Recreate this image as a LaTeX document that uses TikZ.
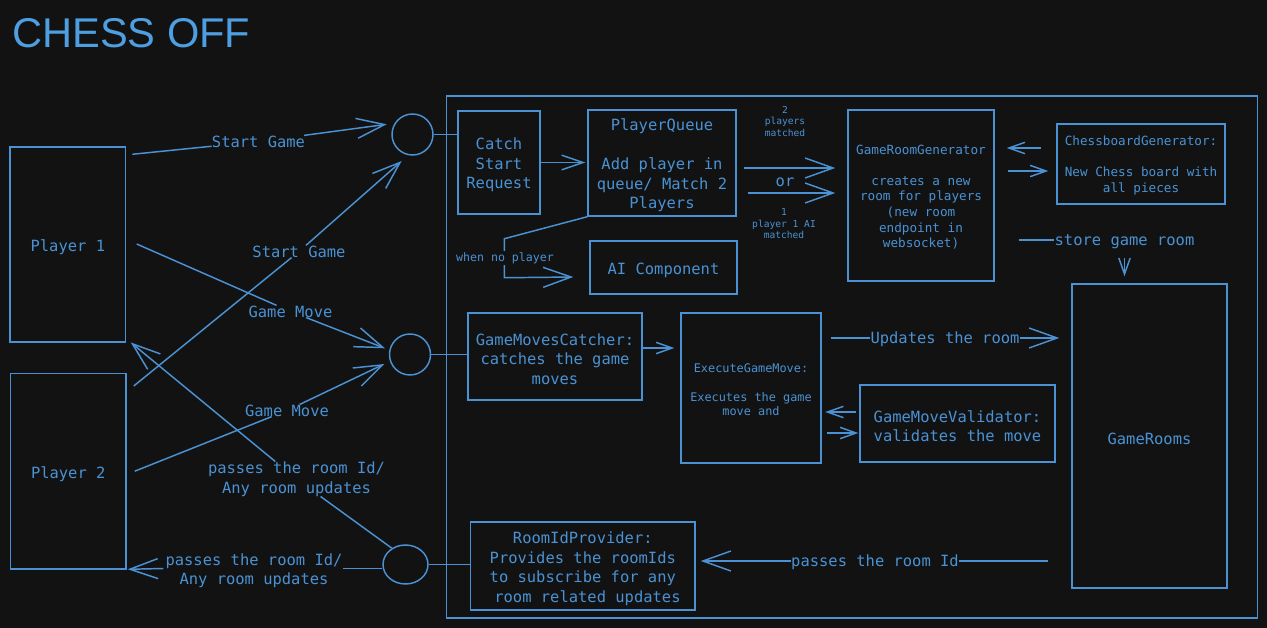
\documentclass[tikz,border=0pt]{standalone}
\usepackage{fontspec}
\setmainfont{DejaVu Sans Mono}
\newfontfamily\titlefam{Liberation Sans}
\usetikzlibrary{arrows.meta,shapes.geometric,calc}
\def\pxu{*0.75pt}
\definecolor{bg}{HTML}{121212}
\definecolor{fg}{HTML}{4A92D4}
\definecolor{tt}{HTML}{4E9FE2}
\newcommand\fmain{\fontsize{11.6pt}{14.6pt}\selectfont}
\newcommand\fsmall{\fontsize{9.5pt}{11.7pt}\selectfont}
\newcommand\fegm{\fontsize{8.9pt}{10.9pt}\selectfont}
\newcommand\fwhen{\fontsize{8.7pt}{10.5pt}\selectfont}
\newcommand\ftiny{\fontsize{7.2pt}{8.6pt}\selectfont}
\newcommand\ftitle{\titlefam\fontsize{31.2pt}{36pt}\selectfont}
\begin{document}
\begin{tikzpicture}[x=0.75pt,y=-0.75pt,
  ln/.style={draw=fg,line width=1.1pt},
  box/.style={rectangle,draw=fg,line width=1.1pt,inner sep=0pt},
  lbl/.style={inner sep=0pt,align=center,text=fg,font=\fmain},
  in main/.style={label={[lbl,yshift=-1.9pt]center:{#1}}},
  in small/.style={label={[lbl,font=\fsmall,yshift=-1.2pt]center:{#1}}},
  in egm/.style={label={[lbl,font=\fegm,yshift=-1.2pt]center:{#1}}},
  bigtip/.style={-{Straight Barb[length=21pt,width=15pt]}},
  medtip/.style={-{Straight Barb[length=16pt,width=11pt]}},
  smalltip/.style={-{Straight Barb[length=12pt,width=8.5pt]}},
  ring/.style={draw=fg,line width=1.1pt,inner sep=0pt}
]
\fill[bg] (0,0) rectangle (1267,628);
\useasboundingbox (0,0) rectangle (1267,628);

\node[anchor=base west,inner sep=0pt,text=tt,font=\ftitle] (title) at (12,47) {CHESS OFF};

% container
\node[box,minimum width=811\pxu,minimum height=522\pxu] (sys) at (852,357) {};

% players and circles
\node[box,minimum width=115.7\pxu,minimum height=195\pxu,in main={Player 1}] (p1) at (67.85,244.5) {};
\node[box,minimum width=115.5\pxu,minimum height=195.7\pxu,in main={Player 2}] (p2) at (68.25,471.2) {};
\node[ring,circle,minimum size=41\pxu] (c1) at (412.5,134.5) {};
\node[ring,circle,minimum size=41\pxu] (c2) at (410,354.5) {};
\node[ring,ellipse,minimum width=45\pxu,minimum height=39\pxu] (c3) at (405.5,564.5) {};

% components
\node[box,minimum width=82\pxu,minimum height=103\pxu,in main={Catch\\Start\\Request}] (catch) at (499,162.5) {};
\node[box,minimum width=148\pxu,minimum height=106\pxu,in main={PlayerQueue\\[14.6pt]Add player in\\queue/ Match 2\\Players}] (pq) at (662,163) {};
\node[box,minimum width=147\pxu,minimum height=53\pxu,in main={AI Component}] (ai) at (663.5,267.5) {};
\node[box,minimum width=146\pxu,minimum height=171\pxu,in small={GameRoomGenerator\\[11.7pt]creates a new\\room for players\\(new room\\endpoint in\\websocket)}] (grg) at (921,195.5) {};
\node[box,minimum width=168\pxu,minimum height=80\pxu,in small={ChessboardGenerator:\\[11.7pt]New Chess board with\\all pieces}] (cbg) at (1141,164) {};
\node[box,minimum width=174\pxu,minimum height=87\pxu,in main={GameMovesCatcher:\\catches the game\\moves}] (gmc) at (555,356.5) {};
\node[box,minimum width=140\pxu,minimum height=150\pxu,in egm={ExecuteGameMove:\\[10.9pt]Executes the game\\move and}] (egm) at (751,388) {};
\node[box,minimum width=195\pxu,minimum height=77\pxu,in main={GameMoveValidator:\\validates the move}] (gmv) at (957.5,423.5) {};
\node[box,minimum width=155\pxu,minimum height=304\pxu,in main={GameRooms}] (rooms) at (1149.5,436) {};
\node[box,minimum width=224.4\pxu,minimum height=88\pxu,in main={RoomIdProvider:\\Provides the roomIds\\to subscribe for any\\\mbox{} room related updates}] (rip) at (582.8,566) {};

% labels
\node[lbl] (lsg1) at (258.5,141.5) {Start Game};
\node[lbl] (lsg2) at (299,251.5) {Start Game};
\node[lbl] (lgm1) at (290.5,311.5) {Game Move};
\node[lbl] (lgm2) at (287,410.5) {Game Move};
\node[lbl] (lp1) at (296.5,479) {passes the room Id/\\Any room updates};
\node[lbl] (lp2) at (254,570.5) {passes the room Id/\\Any room updates};
\node[lbl] (lor) at (785,182.5) {or};
\node[lbl,font=\ftiny] (l2p) at (785,121.5) {2\\players\\matched};
\node[lbl,font=\ftiny] (l1p) at (784,224) {1\\player 1 AI\\matched};
\node[lbl] (lstore) at (1124.5,241.5) {store game room};
\node[lbl] (lupd) at (945,339.5) {Updates the room};
\node[lbl] (lp3) at (875,562.5) {passes the room Id};

% player connectors
\draw[ln] ($(p1.north east)+(6,8)$) -- (lsg1);
\draw[ln,bigtip] (lsg1) -- ($(c1)+(-25.8,-10.2)$);
\draw[ln] ($(p2.north east)+(7,13.4)$) -- (lsg2);
\draw[ln,bigtip] (lsg2) -- ($(c1)+(-10.8,26.5)$);
\draw[ln] ($(p1.east)+(10.3,-0.5)$) -- (lgm1);
\draw[ln,bigtip] (lgm1) -- ($(c2)+(-25,-6.2)$);
\draw[ln] ($(p2.east)+(8,0)$) -- (lgm2);
\draw[ln,bigtip] (lgm2) -- ($(c2)+(-25.7,9.5)$);
\draw[ln] (c3.130) -- (lp1);
\draw[ln,bigtip] (lp1) -- ($(p1.south east)+(4.3,-0.3)$);
\draw[ln] ($(c3.west)+(0,4)$) -- ($(c3.west)+(-39,4)$);
\draw[ln,bigtip] ($(lp2.west)+(-2,-2)$) -- ($(p2.south east)+(1,-0.5)$);

% circles to components
\draw[ln] (c1.east) -- (c1.east -| catch.west);
\draw[ln] (c2.east) -- (c2.east -| gmc.west);
\draw[ln] (c3.east) -- (c3.east -| rip.west);

% internal connectors
\draw[ln,medtip] (catch.east) -- ($(catch.east -| pq.west)+(-2,0)$);
\draw[ln,bigtip] ($(pq.east)+(7,5)$) -- ($(pq.east -| grg.west)+(-12,5)$);
\draw[ln,bigtip] ($(pq.east)+(11,30)$) -- ($(pq.east -| grg.west)+(-12,30)$);
\draw[ln,bigtip] (pq.south west) -- ++(-83,22) -- ++(0,39) -- ($(ai.west)+(-16,9.5)$);
\node[lbl,font=\fwhen,fill=bg,inner sep=1pt] (lwhen) at (505,258) {when no player};
\draw[ln,smalltip] ($(cbg.west)+(-15,-16)$) -- ($(cbg.west -| grg.east)+(12,-16)$);
\draw[ln,smalltip] ($(cbg.west -| grg.east)+(13,7)$) -- ($(cbg.west)+(-8,7)$);
\draw[ln] ($(grg.east)+(24,44.5)$) -- ($(lstore.west)+(0,-1.5)$);
\draw[ln,smalltip] ($(lstore.south)+(0,9)$) -- ($(lstore.south |- rooms.north)+(0,-7)$);
\draw[ln,smalltip] ($(gmc.east)+(0,-8.5)$) -- ($(gmc.east -| egm.west)+(-6,-8.5)$);
\draw[ln] ($(lupd.west -| egm.east)+(9,-1.5)$) -- ($(lupd.west)+(0,-1.5)$);
\draw[ln,bigtip] ($(lupd.east)+(0,-1.5)$) -- ($(lupd.east -| rooms.west)+(-12,-1.5)$);
\draw[ln,smalltip] ($(gmv.west)+(-3,-11.5)$) -- ($(gmv.west -| egm.east)+(3.5,-11.5)$);
\draw[ln,smalltip] ($(gmv.west -| egm.east)+(5,9.5)$) -- ($(gmv.west)+(-1,9.5)$);
\draw[ln] ($(lp3.east -| rooms.west)+(-23,-1.5)$) -- ($(lp3.east)+(0,-1.5)$);
\draw[ln,bigtip] ($(lp3.west)+(0,-1.5)$) -- ($(lp3.west -| rip.east)+(5,-1.5)$);
\end{tikzpicture}
\end{document}
